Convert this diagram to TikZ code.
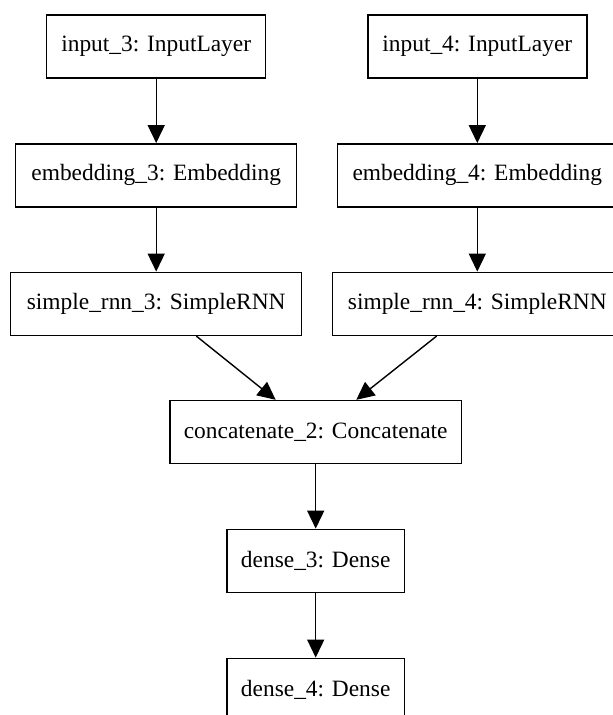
\documentclass[tikz,border=0pt]{standalone}
\usepackage{fontspec}
\setmainfont{Liberation Serif}
\usetikzlibrary{arrows.meta}
\begin{document}
\begin{tikzpicture}[x=1pt,y=-1pt,
  layer/.style={draw=black, line width=1.4pt, rectangle, inner sep=0pt,
    minimum height=63pt, font=\fontsize{23.4}{28}\selectfont, fill=white},
  conn/.style={draw=black, line width=1.4pt, -{Triangle[length=18pt,width=17pt]}}]
\clip (0,0) rectangle (613,715);
\fill[white] (0,0) rectangle (613,715);
\node[layer, minimum width=219pt] (in3) at (156.2,46.5) {input\_3: InputLayer};
\node[layer, minimum width=219pt] (in4) at (477.3,46.5) {input\_4: InputLayer};
\node[layer, minimum width=281pt] (em3) at (156.2,175.3) {embedding\_3: Embedding};
\node[layer, minimum width=280pt] (em4) at (477.3,175.3) {embedding\_4: Embedding};
\node[layer, minimum width=291pt] (rn3) at (156.2,303.8) {simple\_rnn\_3: SimpleRNN};
\node[layer, minimum width=290pt] (rn4) at (477.3,303.8) {simple\_rnn\_4: SimpleRNN};
\node[layer, minimum width=291.3pt] (cat) at (315.7,432) {concatenate\_2: Concatenate};
\node[layer, minimum width=177.7pt] (d3) at (315.7,560.8) {dense\_3: Dense};
\node[layer, minimum width=177.7pt] (d4) at (315.7,689.8) {dense\_4: Dense};
\draw[conn] (in3) -- (em3);
\draw[conn] (in4) -- (em4);
\draw[conn] (em3) -- (rn3);
\draw[conn] (em4) -- (rn4);
\draw[conn] (rn3) -- (cat);
\draw[conn] (rn4) -- (cat);
\draw[conn] (cat) -- (d3);
\draw[conn] (d3) -- (d4);
\end{tikzpicture}
\end{document}
